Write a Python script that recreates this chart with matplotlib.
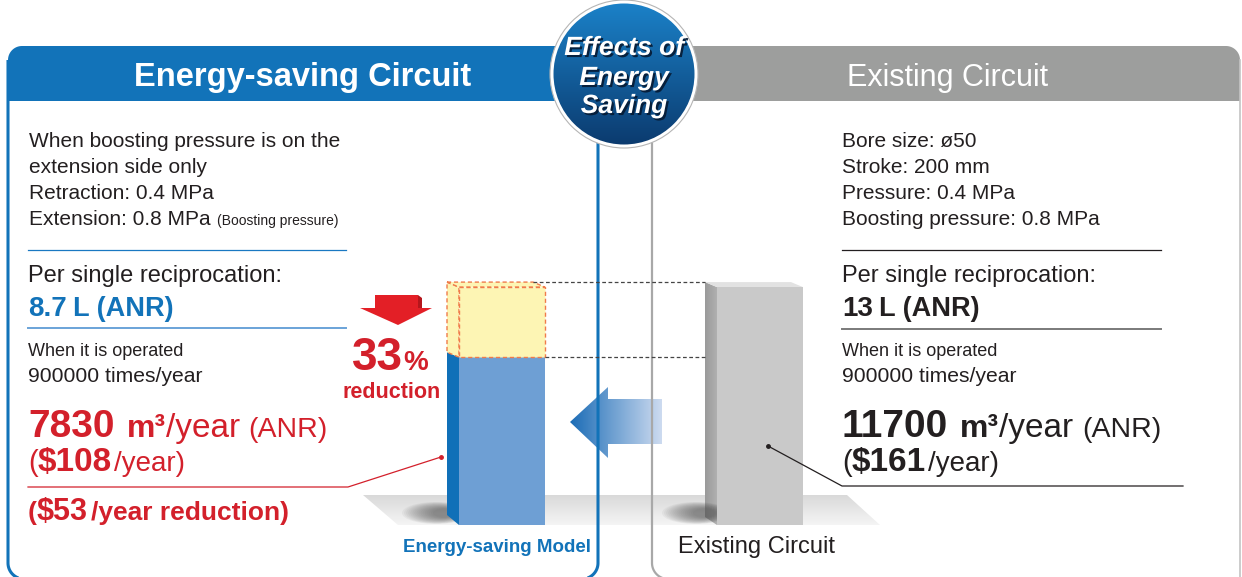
import numpy as np
import matplotlib
matplotlib.use("Agg")
import matplotlib.pyplot as plt
import matplotlib.colors as mcolors
import matplotlib.patheffects as pe
from matplotlib import font_manager
from matplotlib.patches import Polygon, Circle, Ellipse, Rectangle

# values shown in the chart
model_labels = ["Energy-saving Model", "Existing Circuit"]
air_per_cycle_L = [8.7, 13]
annual_air_m3 = [7830, 11700]
annual_cost_usd = [108, 161]
cycles_per_year = 900000
reduction_pct = 33
cost_reduction_usd = 53

header_titles = ["Energy-saving Circuit", "Existing Circuit"]
badge_lines = ["Effects of", "Energy", "Saving"]
saving_conditions = [
    "When boosting pressure is on the",
    "extension side only",
    "Retraction: 0.4 MPa",
    "Extension: 0.8 MPa",
]
saving_note = "(Boosting pressure)"
existing_conditions = [
    "Bore size: ø50",
    "Stroke: 200 mm",
    "Pressure: 0.4 MPa",
    "Boosting pressure: 0.8 MPa",
]

W, H = 1242, 577
BLUE = "#1273b9"
RED = "#d3202b"
INK = "#231f20"
FONT = "Liberation Sans"
names = {f.name for f in font_manager.fontManager.ttflist}
NARROW = "Liberation Sans Narrow" if "Liberation Sans Narrow" in names else None

# bar scale: litres measured up from the floor plane
FLOOR_Y = 499
PX_PER_L = 16.3


def arc(cx, cy, r, a0, a1, n=20):
    t = np.radians(np.linspace(a0, a1, n))
    return list(zip(cx + r * np.cos(t), cy + r * np.sin(t)))


def gradient_fill(ax, pts, c0, c1, horizontal=True):
    pts = np.array(pts)
    x0, x1 = pts[:, 0].min(), pts[:, 0].max()
    y0, y1 = pts[:, 1].min(), pts[:, 1].max()
    a, b = np.array(mcolors.to_rgb(c0)), np.array(mcolors.to_rgb(c1))
    t = np.linspace(0, 1, 256)
    line = a[None, :] * (1 - t[:, None]) + b[None, :] * t[:, None]
    img = line[None, :, :] if horizontal else line[:, None, :]
    patch = Polygon(pts, closed=True, fc="none", ec="none")
    ax.add_patch(patch)
    im = ax.imshow(img, extent=(x0, x1, y1, y0), origin="upper",
                   aspect="auto", interpolation="bilinear")
    im.set_clip_path(patch)
    return im


def runs(ax, x, y, parts, renderer, family=FONT):
    for text, size, weight, color, gap in parts:
        t = ax.text(x, y, text, fontsize=size, fontweight=weight, color=color,
                    family=family, ha="left", va="baseline")
        x += t.get_window_extent(renderer).width + gap
    return x


fig = plt.figure(figsize=(W / 100, H / 100), dpi=100)
ax = fig.add_axes([0, 0, 1, 1])
ax.set_xlim(0, W)
ax.set_ylim(H, 0)
ax.axis("off")
renderer = fig.canvas.get_renderer()

# panel outlines (bottom edge sits just below the picture)
left_outline = [(8, 60), (8, 563)] + arc(24, 563, 16, 180, 90) + [(582, 579)] + arc(582, 563, 16, 90, 0) + [(598, 142)]
ax.plot(*zip(*left_outline), color=BLUE, lw=2.2, solid_capstyle="butt")
right_outline = [(652, 142), (652, 563)] + arc(668, 563, 16, 180, 90) + [(1226, 579)]
ax.plot(*zip(*right_outline), color="#a8a8a8", lw=1.6)
ax.plot([1240, 1240], [60, 577], color="#c4c4c4", lw=1.2)

# headers
left_head = [(8, 101), (8, 60)] + arc(22, 60, 14, 180, 270) + [(630, 46), (630, 101)]
ax.add_patch(Polygon(left_head, closed=True, fc=BLUE, ec="none"))
right_head = [(620, 101), (620, 46), (1226, 46)] + arc(1226, 60, 14, 270, 360) + [(1240, 101)]
ax.add_patch(Polygon(right_head, closed=True, fc="#9d9e9d", ec="none"))
ax.text(303, 86, header_titles[0], fontsize=23.5, fontweight="bold", color="white",
        family=FONT, ha="center", va="baseline")
ax.text(948, 86, header_titles[1], fontsize=22, color="white",
        family=FONT, ha="center", va="baseline")

# floor
floor = [(363, 495), (847, 495), (880, 525), (398, 525)]
gradient_fill(ax, floor, "#d9d9d9", "#f5f5f5", horizontal=False)

# soft shadows under the bars
for cx in (436, 696):
    n = 16
    for k in range(n):
        f = k / (n - 1)
        ax.add_patch(Ellipse((cx + 8 * f, 513), 68 - 46 * f, 22 - 13 * f,
                             fc="#555555", ec="none", alpha=0.06, lw=0))

# bars
bar_x = [459, 717]
bar_w, dx, dy = 86, 12, 5
tops = [FLOOR_Y - v * PX_PER_L for v in air_per_cycle_L]
ghost_top = FLOOR_Y - air_per_cycle_L[1] * PX_PER_L

# energy-saving bar
x0 = bar_x[0]
ax.add_patch(Polygon([(x0 - dx, tops[0] - dy), (x0, tops[0]), (x0, 525), (x0 - dx, 515)],
                     closed=True, fc="#1070b8", ec="none"))
ax.add_patch(Rectangle((x0, tops[0]), bar_w, 525 - tops[0], fc="#6e9fd4", ec="none"))
# ghost of existing consumption
ghost_kw = dict(closed=True, fc="#fdf5b4", ec="#f07b4b", lw=1, ls=(0, (3, 2)))
ax.add_patch(Polygon([(x0 - dx, ghost_top - dy), (x0, ghost_top), (x0, tops[0]), (x0 - dx, tops[0] - dy)], **ghost_kw))
ax.add_patch(Polygon([(x0 - dx, ghost_top - dy), (x0 + bar_w - dx, ghost_top - dy), (x0 + bar_w, ghost_top), (x0, ghost_top)], **ghost_kw))
ax.add_patch(Rectangle((x0, ghost_top), bar_w, tops[0] - ghost_top, fc="#fdf5b4", ec="#f07b4b", lw=1, ls=(0, (3, 2))))

# existing bar
x1 = bar_x[1]
gradient_fill(ax, [(x1 - dx, tops[1] - dy), (x1, tops[1]), (x1, 525), (x1 - dx, 517)], "#9a9a9a", "#b0b0b0")
ax.add_patch(Polygon([(x1 - dx, tops[1] - dy), (x1 + bar_w - dx, tops[1] - dy), (x1 + bar_w, tops[1]), (x1, tops[1])],
                     closed=True, fc="#e2e2e2", ec="none"))
ax.add_patch(Rectangle((x1, tops[1]), bar_w, 525 - tops[1], fc="#c9c9c9", ec="none"))

# dashed level lines
ax.plot([x0 + bar_w - dx, x1 - dx], [ghost_top - dy, ghost_top - dy], color="#444444", lw=0.9, ls=(0, (3, 2)))
ax.plot([x0 + bar_w, x1 - dx], [tops[0], tops[0]], color="#444444", lw=0.9, ls=(0, (3, 2)))

# big arrow
arrow = [(570, 422), (608, 387), (608, 399), (662, 399), (662, 444), (608, 444), (608, 458)]
gradient_fill(ax, arrow, "#1b6cb6", "#cddbf0")

# red reduction arrow
ax.add_patch(Polygon([(375, 295), (418, 295), (418, 308), (432, 308), (398, 325), (360, 308), (375, 308)],
                     closed=True, fc="#e31f26", ec="none"))
ax.add_patch(Polygon([(418, 295), (422, 298), (422, 308), (418, 308)], closed=True, fc="#b5161c", ec="none"))
runs(ax, 352, 370, [(f"{reduction_pct}", 33, "bold", RED, 0), ("%", 20, "bold", RED, 0)], renderer)
ax.text(392, 398, "reduction", fontsize=15.5, fontweight="bold", color=RED,
        family=FONT, ha="center", va="baseline")

# bar labels
if NARROW:
    ax.text(497, 552, model_labels[0], fontsize=16, fontweight="bold", color=BLUE,
            family=NARROW, ha="center", va="baseline")
else:
    ax.text(497, 552, model_labels[0], fontsize=13.5, fontweight="bold", color=BLUE,
            family=FONT, ha="center", va="baseline")
ax.text(678, 553, model_labels[1], fontsize=17, color=INK, family=FONT,
        ha="left", va="baseline")

# left column
for i, line in enumerate(saving_conditions):
    t = ax.text(29, 147 + 26 * i, line, fontsize=15, color=INK, family=FONT, va="baseline")
end = t.get_window_extent(renderer).x1
ax.text(end + 6, 225, saving_note, fontsize=10, color=INK, family=FONT, va="baseline")
ax.plot([28, 346], [250, 250], color="#1a78c2", lw=0.9)
ax.text(28, 282, "Per single reciprocation:", fontsize=17, color=INK, family=FONT, va="baseline")
runs(ax, 28, 316, [(f"{air_per_cycle_L[0]}", 20, "bold", BLUE, 6), ("L (ANR)", 19.5, "bold", BLUE, 0)], renderer)
ax.plot([28, 346], [328, 328], color="#6aa3d8", lw=1.4)
ax.text(28, 356, "When it is operated", fontsize=13, color=INK, family=FONT, va="baseline")
ax.text(28, 382, f"{cycles_per_year} times/year", fontsize=15.2, color=INK, family=FONT, va="baseline")
runs(ax, 28, 437, [(f"{annual_air_m3[0]}", 28, "bold", RED, 12), ("m³", 23, "bold", RED, 0),
                   ("/year", 24, "normal", RED, 9), ("(ANR)", 20.5, "normal", RED, 0)], renderer)
runs(ax, 28, 471, [("(", 21, "normal", RED, 0), (f"${annual_cost_usd[0]}", 24, "bold", RED, 2),
                   ("/year)", 20, "normal", RED, 0)], renderer)
ax.plot([28, 348, 441], [487, 487, 457], color=RED, lw=0.9)
ax.plot([441], [457], "o", color=RED, ms=2.5)
runs(ax, 28, 520, [("(", 19, "bold", RED, 0), (f"${cost_reduction_usd}", 22, "bold", RED, 3),
                   ("/year reduction)", 19, "bold", RED, 0)], renderer)

# right column
for i, line in enumerate(existing_conditions):
    ax.text(842, 147 + 26 * i, line, fontsize=15, color=INK, family=FONT, va="baseline")
ax.plot([842, 1161], [250, 250], color=INK, lw=0.9)
ax.text(842, 282, "Per single reciprocation:", fontsize=17, color=INK, family=FONT, va="baseline")
runs(ax, 842, 316, [(f"{air_per_cycle_L[1]}", 20, "bold", INK, 6), ("L (ANR)", 19.5, "bold", INK, 0)], renderer)
ax.plot([842, 1161], [329, 329], color="#7a7a7a", lw=1.4)
ax.text(842, 356, "When it is operated", fontsize=13, color=INK, family=FONT, va="baseline")
ax.text(842, 382, f"{cycles_per_year} times/year", fontsize=15.2, color=INK, family=FONT, va="baseline")
runs(ax, 842, 437, [(f"{annual_air_m3[1]}", 28, "bold", INK, 12), ("m³", 23, "bold", INK, 0),
                    ("/year", 24, "normal", INK, 9), ("(ANR)", 20.5, "normal", INK, 0)], renderer)
runs(ax, 842, 471, [("(", 21, "normal", INK, 0), (f"${annual_cost_usd[1]}", 24, "bold", INK, 2),
                    ("/year)", 20, "normal", INK, 0)], renderer)
ax.plot([1183, 842, 768], [486, 486, 446], color=INK, lw=0.9)
ax.plot([768], [446], "o", color=INK, ms=2.5)

# badge
ax.add_patch(Circle((624, 74), 74, fc="white", ec="#b5b5b5", lw=0.8, zorder=5))
badge = Circle((624, 74), 70.5, fc="none", ec="none", zorder=5)
ax.add_patch(badge)
t = np.linspace(0, 1, 256)
c0, c1 = np.array(mcolors.to_rgb("#1b82c9")), np.array(mcolors.to_rgb("#0b3a6e"))
img = (c0[None, :] * (1 - t[:, None]) + c1[None, :] * t[:, None])[:, None, :]
im = ax.imshow(img, extent=(552, 696, 146, 2), origin="upper", aspect="auto",
               interpolation="bilinear", zorder=5)
im.set_clip_path(badge)
for line, yb in zip(badge_lines, [55, 85, 113]):
    ax.text(624, yb, line, fontsize=19, fontweight="bold", fontstyle="italic", color="white",
            family=FONT, ha="center", va="baseline", zorder=6,
            path_effects=[pe.withSimplePatchShadow(offset=(1.5, -1.5), shadow_rgbFace="#061a33", alpha=0.9)])

ax.set_xlim(0, W)
ax.set_ylim(H, 0)
fig.savefig("out.png", dpi=100)
